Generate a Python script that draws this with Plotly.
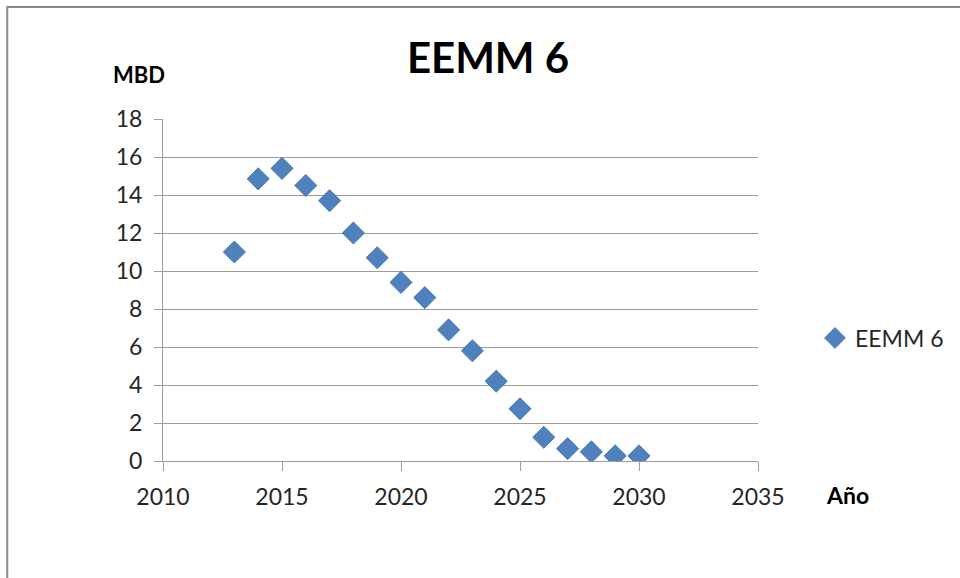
import plotly.graph_objects as go

# Production series (MBD) by year
years = [2013, 2014, 2015, 2016, 2017, 2018, 2019, 2020, 2021,
         2022, 2023, 2024, 2025, 2026, 2027, 2028, 2029, 2030]
mbd = [11.0, 14.85, 15.4, 14.5, 13.7, 12.0, 10.7, 9.4, 8.6,
       6.9, 5.8, 4.2, 2.75, 1.25, 0.65, 0.48, 0.27, 0.27]

x_ticks = [2010, 2015, 2020, 2025, 2030, 2035]
y_ticks = [0, 2, 4, 6, 8, 10, 12, 14, 16, 18]

series_name = "EEMM 6"
blue = "#4F81BD"
grid = "#9c9c9c"
font_family = "Lato, 'Open Sans', sans-serif"

fig = go.Figure()
fig.add_trace(go.Scatter(
    x=years, y=mbd, mode="markers", name=series_name,
    marker=dict(symbol="diamond", size=17, color=blue,
                line=dict(color="#4a7ab5", width=1)),
))

W, H = 960, 578
L, R, T, B = 163, 201, 119, 117
pw, ph = W - L - R, H - T - B


def px_x(p):
    return (p - L) / pw


def px_y(p):
    return (H - B - p) / ph


fig.update_layout(
    width=W, height=H,
    margin=dict(l=L, r=R, t=T, b=B),
    paper_bgcolor="white", plot_bgcolor="white",
    font=dict(family=font_family, color="#262626", size=23),
    title=dict(text="<b>EEMM 6</b>", x=488 / W, xanchor="center",
               y=1 - 58 / H, yanchor="middle", yref="container",
               font=dict(size=42, color="black", family=font_family)),
    showlegend=True,
    legend=dict(x=px_x(815), y=px_y(338), xanchor="left", yanchor="middle",
                font=dict(size=23, color="#262626"), bgcolor="rgba(0,0,0,0)",
                itemwidth=30),
    xaxis=dict(range=[2010, 2035], tickvals=x_ticks, ticks="outside",
               ticklen=9, tickcolor=grid, showgrid=False, zeroline=False,
               showline=True, linecolor=grid, linewidth=1,
               tickfont=dict(size=23), ticklabelstandoff=6),
    yaxis=dict(range=[0, 18], tickvals=y_ticks, ticks="outside",
               ticklen=8, tickcolor=grid, showgrid=True, gridcolor=grid,
               gridwidth=1, zeroline=False, showline=True, linecolor=grid,
               linewidth=1, tickfont=dict(size=23), ticklabelstandoff=7),
    annotations=[
        dict(text="<b>MBD</b>", x=px_x(111), y=px_y(75), xref="paper",
             yref="paper", xanchor="left", yanchor="middle", showarrow=False,
             font=dict(size=22, color="black")),
        dict(text="<b>Año</b>", x=px_x(825), y=px_y(495), xref="paper",
             yref="paper", xanchor="left", yanchor="middle", showarrow=False,
             font=dict(size=23, color="black")),
    ],
    shapes=[
        dict(type="rect", xref="paper", yref="paper",
             x0=px_x(7), x1=px_x(975), y0=px_y(590), y1=px_y(7),
             line=dict(color="#8a8a8a", width=2), fillcolor="rgba(0,0,0,0)",
             layer="below"),
    ],
)

fig.write_html("out.html")
